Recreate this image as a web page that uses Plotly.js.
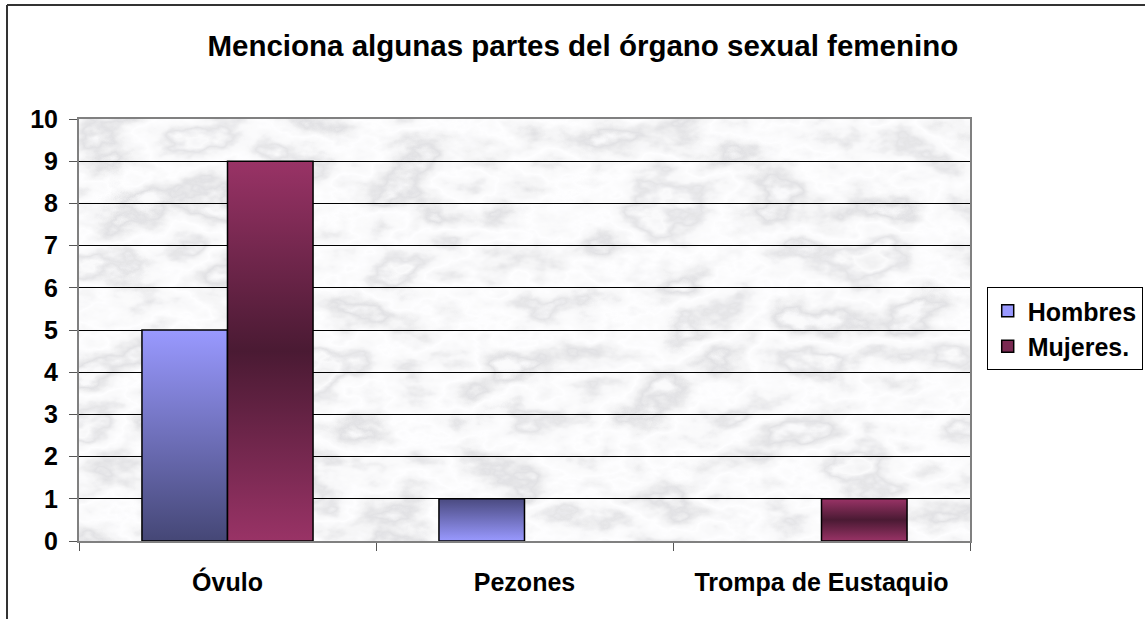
<!DOCTYPE html>
<html>
<head>
<meta charset="utf-8">
<script src="https://cdn.plot.ly/plotly-3.0.1.min.js"></script>
<style>
  body { margin: 0; background: #fff; }
  #plot { width: 1145px; height: 619px; }
</style>
</head>
<body>
<div id="plot"></div>
<script>
// categories and values
let categories = ["Óvulo", "Pezones", "Trompa de Eustaquio"];
let hombres = [5, 1, 0];
let mujeres = [9, 0, 1];
let yTicks = [0, 1, 2, 3, 4, 5, 6, 7, 8, 9, 10];

let font = "'Liberation Sans', Arial, sans-serif";

// marble-ish background for the plot area
let marble = "<svg xmlns='http://www.w3.org/2000/svg' width='891' height='422'>" +
  "<filter id='m' x='0' y='0' width='100%' height='100%'>" +
  "<feTurbulence type='fractalNoise' baseFrequency='0.011 0.018' numOctaves='5' seed='11'/>" +
  "<feColorMatrix type='matrix' values='1 0 0 0 0  1 0 0 0 0  1 0 0 0 0  0 0 0 0 1'/>" +
  "<feComponentTransfer>" +
  "<feFuncR type='table' tableValues='0.93 0.88 0.96 0.78 0.94 0.99 0.91 0.76 0.95 0.98 0.88'/>" +
  "<feFuncG type='table' tableValues='0.93 0.88 0.96 0.78 0.94 0.99 0.91 0.76 0.95 0.98 0.88'/>" +
  "<feFuncB type='table' tableValues='0.94 0.89 0.97 0.8 0.95 1 0.92 0.78 0.96 0.99 0.89'/>" +
  "</feComponentTransfer>" +
  "</filter>" +
  "<rect width='100%' height='100%' fill='#e6e6e8'/>" +
  "<rect width='100%' height='100%' filter='url(#m)'/></svg>";

let trace1 = {
  x: categories,
  y: hombres,
  name: "Hombres",
  type: "bar",
  marker: { color: "#9999ff", line: { color: "#000", width: hombres.map(v => v ? 1.5 : 0) } }
};

let trace2 = {
  x: categories,
  y: mujeres,
  name: "Mujeres.",
  type: "bar",
  marker: { color: "#7a2a52", line: { color: "#000", width: mujeres.map(v => v ? 1.5 : 0) } }
};

let layout = {
  width: 1145,
  height: 619,
  margin: { l: 79, r: 175, t: 119, b: 78 },
  paper_bgcolor: "#fff",
  plot_bgcolor: "#e6e6e8",
  font: { family: font, size: 25, color: "#000", weight: 700 },
  title: {
    text: "Menciona algunas partes del órgano sexual femenino",
    font: { family: font, size: 29.5, weight: 700, color: "#000" },
    xref: "container", x: 0.509, xanchor: "center",
    yref: "container", y: 0.926, yanchor: "middle"
  },
  barmode: "group",
  bargap: 0.424,
  bargroupgap: 0,
  showlegend: true,
  legend: {
    xref: "container", yref: "container",
    x: 0.998, y: 0.5363, xanchor: "right", yanchor: "top",
    itemwidth: 30,
    bgcolor: "#fff", bordercolor: "#000", borderwidth: 1,
    font: { family: font, size: 25, weight: 700, color: "#000" }
  },
  xaxis: {
    type: "category",
    showline: true, linecolor: "#808080", linewidth: 2, mirror: true,
    ticks: "outside", tickson: "boundaries", ticklen: 8, tickcolor: "#555",
    showgrid: false,
    ticklabelstandoff: 18,
    tickfont: { family: font, size: 25, weight: 700 }
  },
  yaxis: {
    range: [0, 10],
    tickvals: yTicks,
    showline: true, linecolor: "#808080", linewidth: 2, mirror: true,
    ticks: "outside", ticklen: 8, tickcolor: "#555",
    showgrid: true, gridcolor: "#000", gridwidth: 1,
    zeroline: false,
    ticklabelstandoff: 6,
    tickfont: { family: font, size: 25, weight: 700 }
  },
  images: [{
    source: "data:image/svg+xml;charset=utf-8," + encodeURIComponent(marble),
    xref: "paper", yref: "paper", x: 0, y: 1, sizex: 1, sizey: 1,
    xanchor: "left", yanchor: "top", sizing: "stretch", layer: "below"
  }],
  shapes: [
    { type: "line", xref: "paper", yref: "paper", x0: -0.0808, x1: -0.0808, y0: 1.27, y1: -0.2,
      line: { color: "#333", width: 2 } },
    { type: "line", xref: "paper", yref: "paper", x0: -0.0808, x1: 1.2, y0: 1.27, y1: 1.27,
      line: { color: "#333", width: 2 } }
  ]
};

// vertical gradients for the bars, per trace and per bar
let gradients = [
  [["#9999ff", "#454776"], ["#4a4a80", "#9999ff"], ["#9999ff", "#454776"]],
  [["#993366", "#4a1a33", "#993366"], ["#993366", "#4a1a33", "#993366"], ["#993366", "#4a1a33", "#993366"]]
];

Plotly.newPlot("plot", [trace1, trace2], layout, { displayModeBar: false }).then(function (gd) {
  let ns = "http://www.w3.org/2000/svg";
  let svg = gd.querySelector("svg.main-svg");
  let defs = svg.querySelector("defs");
  let traces = gd.querySelectorAll(".barlayer .trace");
  traces.forEach(function (tr, t) {
    tr.querySelectorAll(".point path").forEach(function (p, i) {
      let stops = gradients[t][i];
      let id = "grad-" + t + "-" + i;
      let g = document.createElementNS(ns, "linearGradient");
      g.setAttribute("id", id);
      g.setAttribute("x1", "0"); g.setAttribute("y1", "0");
      g.setAttribute("x2", "0"); g.setAttribute("y2", "1");
      stops.forEach(function (c, k) {
        let s = document.createElementNS(ns, "stop");
        s.setAttribute("offset", (k / (stops.length - 1)).toString());
        s.setAttribute("stop-color", c);
        g.appendChild(s);
      });
      defs.appendChild(g);
      p.style.fill = "url(#" + id + ")";
    });
  });
});
</script>
</body>
</html>
